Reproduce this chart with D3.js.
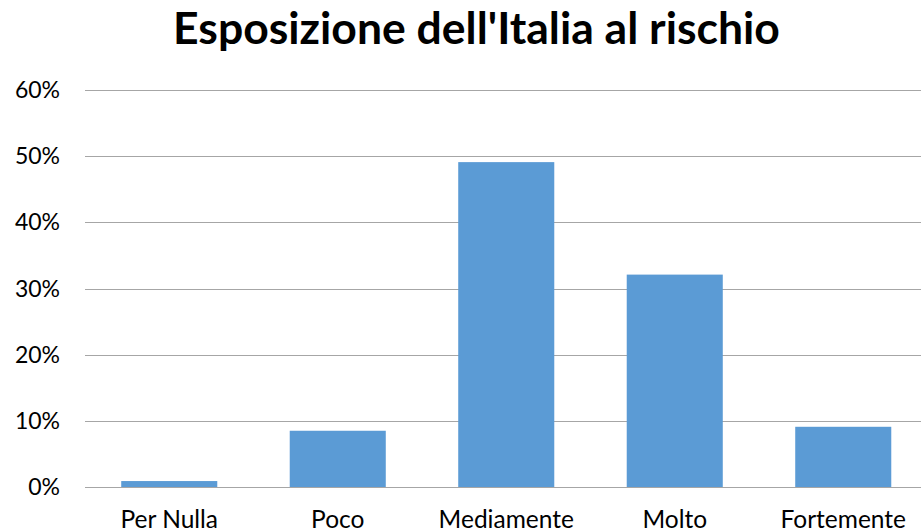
<!DOCTYPE html>
<html>
<head>
<meta charset="utf-8">
<script src="https://cdn.jsdelivr.net/npm/d3@7"></script>
<style>
  body { margin: 0; background: #fff; }
  text { font-family: Lato, "Open Sans", sans-serif; fill: #000; }
</style>
</head>
<body>
<script>
var width = 921;
var height = 531;

// data
var categories = ["Per Nulla", "Poco", "Mediamente", "Molto", "Fortemente"];
var values = [0.009, 0.085, 0.491, 0.321, 0.091];
var yTicks = [0, 0.1, 0.2, 0.3, 0.4, 0.5, 0.6];

var svg = d3.select("body").append("svg")
  .attr("width", width)
  .attr("height", height);

var x = d3.scaleBand()
  .domain(categories)
  .range([85, 927.5])
  .paddingInner(0.43)
  .paddingOuter(0.215);

var y = d3.scaleLinear()
  .domain([0, 0.6])
  .range([487, 90]);

// title
svg.append("text")
  .attr("x", 476.5)
  .attr("y", 44)
  .attr("text-anchor", "middle")
  .style("font-size", "44.5px")
  .style("font-weight", "bold")
  .text("Esposizione dell'Italia al rischio");

// gridlines
svg.append("g")
  .selectAll("line")
  .data(yTicks)
  .enter()
  .append("line")
  .attr("x1", 85)
  .attr("x2", width)
  .attr("y1", function(d) { return Math.round(y(d)) + 0.5; })
  .attr("y2", function(d) { return Math.round(y(d)) + 0.5; })
  .attr("stroke", "#a6a6a6")
  .attr("stroke-width", 1);

// y tick labels
svg.append("g")
  .selectAll("text")
  .data(yTicks)
  .enter()
  .append("text")
  .attr("x", 60)
  .attr("y", function(d) { return y(d); })
  .attr("dy", "0.35em")
  .attr("text-anchor", "end")
  .style("font-size", "23px")
  .text(d3.format(".0%"));

// bars
svg.append("g")
  .selectAll("rect")
  .data(values)
  .enter()
  .append("rect")
  .attr("x", function(d, i) { return x(categories[i]); })
  .attr("width", x.bandwidth())
  .attr("y", function(d) { return y(d); })
  .attr("height", function(d) { return y(0) - y(d); })
  .style("fill", "#5b9bd5");

// category labels
svg.append("g")
  .selectAll("text")
  .data(categories)
  .enter()
  .append("text")
  .attr("x", function(d) { return x(d) + x.bandwidth() / 2; })
  .attr("y", 528)
  .attr("text-anchor", "middle")
  .style("font-size", "24.5px")
  .text(function(d) { return d; });
</script>
</body>
</html>
